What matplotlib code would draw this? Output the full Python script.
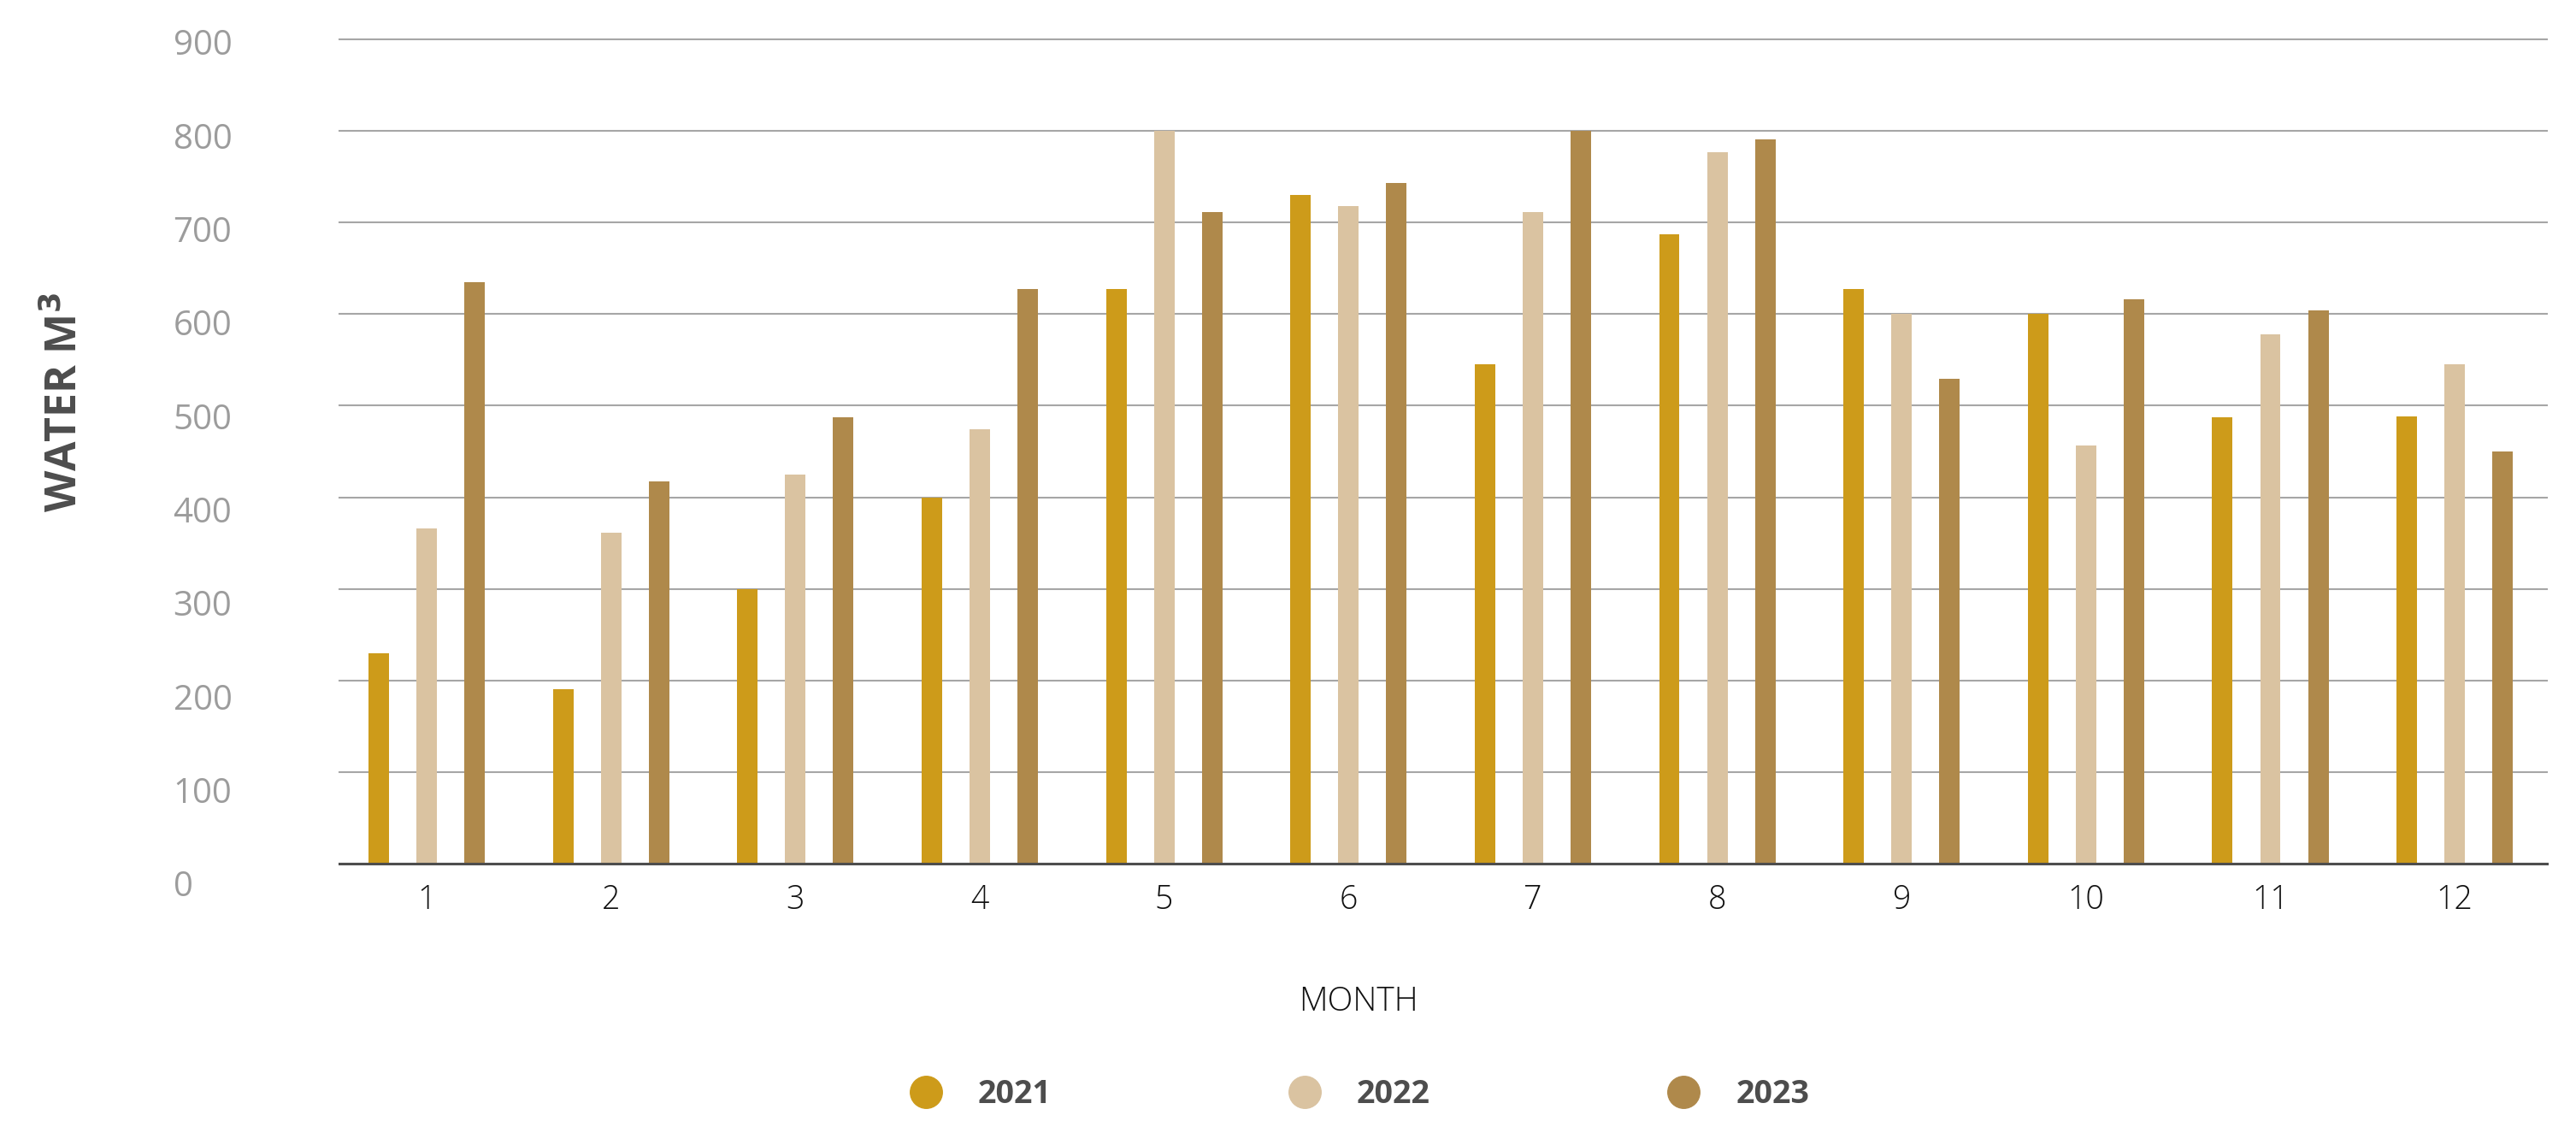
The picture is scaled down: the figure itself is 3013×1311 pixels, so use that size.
import numpy as np
import matplotlib
matplotlib.use("Agg")
import matplotlib.pyplot as plt
from matplotlib.lines import Line2D

plt.rcParams['font.family'] = ['Open Sans', 'DejaVu Sans']

# data
months = ['1', '2', '3', '4', '5', '6', '7', '8', '9', '10', '11', '12']
years = ['2021', '2022', '2023']
water_2021 = [230, 190, 300, 400, 627, 730, 545, 687, 627, 600, 487, 488]
water_2022 = [366, 361, 425, 474, 800, 718, 711, 777, 600, 457, 578, 545]
water_2023 = [635, 417, 487, 627, 711, 743, 800, 791, 529, 616, 604, 450]
colors = ['#CD9B1A', '#DAC3A1', '#AF894B']
y_ticks = [0, 100, 200, 300, 400, 500, 600, 700, 800, 900]

W, H = 3013, 1311
fig = plt.figure(figsize=(W / 100, H / 100), dpi=100)

# main plot area (pixel positions from the reference)
left, right, top, bottom = 397, 2979, 46, 1010
ax = fig.add_axes([left / W, 1 - bottom / H, (right - left) / W, (bottom - top) / H])

x = np.arange(len(months))
offset = 0.26
width = 0.111
series = [water_2021, water_2022, water_2023]
for i, vals in enumerate(series):
    ax.bar(x + (i - 1) * offset, vals, width, color=colors[i], zorder=3)

ax.set_xlim(-0.473, 11.5)
ax.set_ylim(0, 900)
ax.set_yticks(y_ticks)
ax.yaxis.grid(True, color='#a6a6a6', linewidth=1.5, zorder=0)
for g in ax.get_ygridlines():
    g.set_clip_on(False)
ax.set_axisbelow(True)
for s in ['top', 'right', 'left']:
    ax.spines[s].set_visible(False)
ax.spines['bottom'].set_color('#4d4d4d')
ax.spines['bottom'].set_linewidth(2.2)
ax.spines['bottom'].set_zorder(4)
ax.tick_params(axis='y', length=0, labelleft=False)
ax.set_xticks(x)
ax.set_xticklabels(months)
ax.tick_params(axis='x', length=0, pad=17, labelsize=27, labelcolor='#111111')
for t in ax.get_xticklabels():
    t.set_fontweight('light')

# y tick labels sit on a slightly stretched scale in the reference
lab_top, lab_bot = 49, 1033
ax_lab = fig.add_axes([left / W, 1 - lab_bot / H, (right - left) / W, (lab_bot - lab_top) / H])
ax_lab.set_ylim(0, 900)
ax_lab.set_yticks(y_ticks)
ax_lab.set_xticks([])
ax_lab.patch.set_visible(False)
for s in ax_lab.spines.values():
    s.set_visible(False)
ax_lab.tick_params(axis='y', length=0, pad=140, labelsize=29, labelcolor='#9c9c9c')
for t in ax_lab.get_yticklabels():
    t.set_horizontalalignment('left')

# axis titles
fig.text(1589 / W, 1 - 1182 / H, 'MONTH', ha='center', va='baseline',
         fontsize=28, fontweight='light', color='#111111')
fig.text(90 / W, 1 - 470 / H, 'WATER M$^{\\mathbf{3}}$', rotation=90, rotation_mode='anchor',
         ha='center', va='baseline', fontsize=36, fontweight='bold', color='#4d4d4d')

# legend
handles = [Line2D([], [], linestyle='none', marker='o', markersize=27,
                  markerfacecolor=c, markeredgecolor=c) for c in colors]
leg = fig.legend(handles, years, loc='center', bbox_to_anchor=(1590 / W, 1 - 1280 / H),
                 ncol=3, frameon=False, handlelength=1.0, handletextpad=1.13,
                 columnspacing=7.4, borderaxespad=0, borderpad=0,
                 prop={'size': 27, 'weight': 'bold'})
for t in leg.get_texts():
    t.set_color('#4d4d4d')

fig.savefig('out.png', dpi=100, facecolor='white')
